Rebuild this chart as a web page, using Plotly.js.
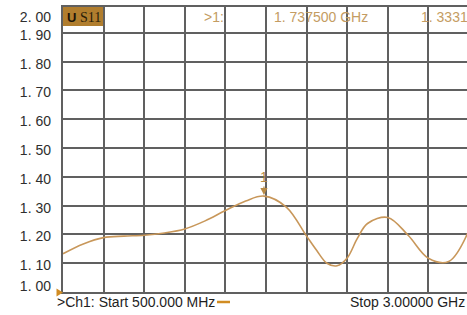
<!DOCTYPE html>
<html>
<head>
<meta charset="utf-8">
<script src="https://cdn.plot.ly/plotly-3.0.1.min.js"></script>
<style>
html,body{margin:0;padding:0;background:#fff;overflow:hidden;width:467px;height:315px;}
#chart{width:470px;height:315px;}
</style>
</head>
<body>
<div id="chart"></div>
<script>
// ---- data ----
var freqGHz = [0.500, 0.625, 0.750, 0.875, 1.000, 1.125, 1.250, 1.375, 1.500, 1.625, 1.7375, 1.875, 2.000, 2.0625, 2.125, 2.1875, 2.250, 2.3125, 2.375, 2.500, 2.625, 2.750, 2.875, 3.000];
var swr     = [1.133, 1.167, 1.189, 1.194, 1.197, 1.205, 1.219, 1.247, 1.283, 1.316, 1.3331, 1.295, 1.194, 1.144, 1.100, 1.091, 1.118, 1.186, 1.238, 1.259, 1.197, 1.117, 1.106, 1.215];
var markerFreq = [1.7375];
var markerVal  = [1.3331];
var markerName = ['1'];
var yTickLabels = ['1. 00','1. 10','1. 20','1. 30','1. 40','1. 50','1. 60','1. 70','1. 80','1. 90','2. 00'];
var traceLabel = 'S11';
var headerTexts = ['>1:', '1. 737500 GHz', '1. 3331'];
var startText = '>Ch1: Start 500.000 MHz';
var stopText = 'Stop 3.00000 GHz';

// ---- layout helpers ----
var L = 63, T = 7, W = 406, H = 285;
function px(x){ return (x - L) / W; }
function py(y){ return (T + H - y) / H; }

var gridCol = '#606060';
var traceCol = '#c8975a';
var tan = '#c49c62';

// label positions on the overlay axis (instrument draws them slightly offset)
var yTickPos = yTickLabels.map(function(t, i){
  var v = 1 + i * 0.1;
  if (i === 0) return v + 0.021;
  if (i === yTickLabels.length - 1) return v - 0.045;
  return v - 0.007;
});

var data = [
  {x: freqGHz, y: swr, type: 'scatter', mode: 'lines', name: traceLabel,
   line: {color: traceCol, width: 1.6, shape: 'spline', smoothing: 1}, hoverinfo: 'skip'},
  {x: [0.5, 3.0], y: [1, 1], yaxis: 'y2', mode: 'lines', line: {width: 0}, hoverinfo: 'skip', showlegend: false}
];

var annotations = [
  {xref:'paper', yref:'paper', x: px(65), y: py(17), xanchor:'left', yanchor:'middle', showarrow:false,
   text:'<b>U</b>', font:{family:'Liberation Sans, Arial', size:13, color:'#1c1408'}},
  {xref:'paper', yref:'paper', x: px(78), y: py(17), xanchor:'left', yanchor:'middle', showarrow:false,
   text: traceLabel, font:{family:'Liberation Serif, Times New Roman, serif', size:14, color:'#2a1d08'}},
  {xref:'paper', yref:'paper', x: px(202), y: py(17), xanchor:'left', yanchor:'middle', showarrow:false,
   text: headerTexts[0], font:{family:'Liberation Sans, Arial', size:14, color:tan}},
  {xref:'paper', yref:'paper', x: px(272), y: py(17), xanchor:'left', yanchor:'middle', showarrow:false,
   text: headerTexts[1], font:{family:'Liberation Sans, Arial', size:14, color:tan}},
  {xref:'paper', yref:'paper', x: px(419), y: py(17), xanchor:'left', yanchor:'middle', showarrow:false,
   text: headerTexts[2], font:{family:'Liberation Sans, Arial', size:14, color:tan}},
  {xref:'paper', yref:'paper', x: px(55), y: py(302), xanchor:'left', yanchor:'middle', showarrow:false,
   text: startText, font:{family:'Liberation Sans, Arial', size:14, color:'#1e1e1e'}},
  {xref:'paper', yref:'paper', x: px(467), y: py(302), xanchor:'right', yanchor:'middle', showarrow:false,
   text: stopText, font:{family:'Liberation Sans, Arial', size:14, color:'#1e1e1e'}},
  {x: markerFreq[0], y: markerVal[0], xref:'x', yref:'y', text: markerName[0], showarrow:true,
   arrowhead:2, arrowsize:1.2, arrowwidth:1.2, arrowcolor:'#b88a45', ax:0, ay:-19, standoff:1,
   font:{family:'Liberation Sans, Arial', size:14, color:'#b88a45'}}
];

var shapes = [
  {type:'rect', xref:'paper', yref:'paper', x0: px(63), x1: px(103), y0: py(26), y1: py(7),
   fillcolor:'#b17e2e', line:{width:0}, layer:'below'},
  {type:'path', xref:'paper', yref:'paper',
   path: 'M '+px(56.5)+','+py(288.5)+' L '+px(63)+','+py(292.5)+' L '+px(56.5)+','+py(296.5)+' Z',
   fillcolor:'#d18c22', line:{width:0}},
  {type:'line', xref:'paper', yref:'paper', x0: px(217), x1: px(230), y0: py(302), y1: py(302),
   line:{color:'#d18c22', width:2.5}}
];

var layout = {
  width: 470, height: 315,
  margin: {l: L, r: 1, t: T, b: 315 - T - H},
  paper_bgcolor: '#ffffff', plot_bgcolor: '#ffffff',
  showlegend: false,
  xaxis: {range: [0.5, 3.0], tick0: 0.5, dtick: 0.25, showgrid: true, gridcolor: gridCol, gridwidth: 2,
          showticklabels: false, ticks: '', zeroline: false, showline: true, linecolor: gridCol, linewidth: 2, mirror: true,
          fixedrange: true},
  yaxis: {range: [1.0, 1.99], tick0: 1.0, dtick: 0.1, showgrid: true, gridcolor: gridCol, gridwidth: 2,
          showticklabels: false, ticks: '', zeroline: false, showline: true, linecolor: gridCol, linewidth: 2, mirror: true,
          fixedrange: true},
  yaxis2: {overlaying: 'y', side: 'left', range: [1.0, 1.99], tickmode: 'array', tickvals: yTickPos, ticktext: yTickLabels,
           showgrid: false, zeroline: false, showline: false, ticks: '', ticklabelstandoff: 11,
           tickfont: {family: 'Liberation Sans, Arial', size: 14, color: '#2e2e2e'}, fixedrange: true},
  annotations: annotations,
  shapes: shapes
};

Plotly.newPlot('chart', data, layout, {displayModeBar: false, staticPlot: true});
</script>
</body>
</html>
